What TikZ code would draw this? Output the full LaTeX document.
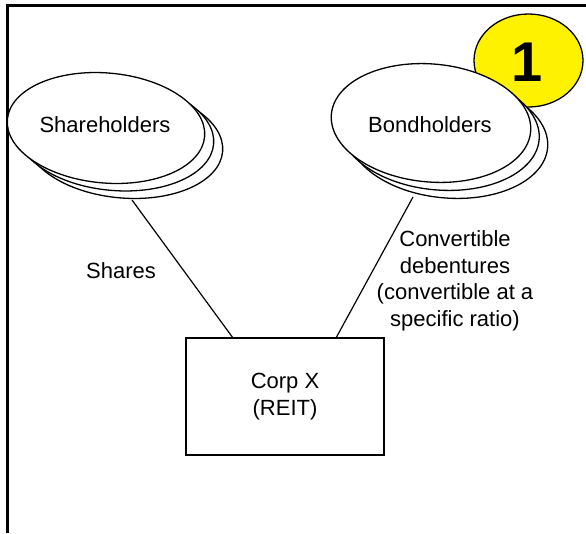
\documentclass[tikz,border=0pt]{standalone}
\usepackage{fontspec}
\setmainfont{Liberation Sans}
\usetikzlibrary{shapes.geometric}
\begin{document}
\begin{tikzpicture}[x=1pt,y=-1pt,
  lbl/.style={font=\fontsize{22}{26.5}\selectfont, align=center, inner sep=0pt},
  stackell/.style={draw=black, fill=white, line width=1.3pt},
  conn/.style={draw=black, line width=1.2pt},
  border/.style={draw=black, line width=3pt}]
\useasboundingbox (0,0) rectangle (586,533);
% frame
\draw[border] (586,5.5) -- (7.5,5.5) -- (7.5,533);
% badge
\node[draw=black, fill=yellow, line width=1.3pt, ellipse, minimum width=109, minimum height=93, inner sep=0pt] (badge) at (528.5,60.5) {};
\node[font=\bfseries\fontsize{56}{56}\selectfont, inner sep=0pt] (one) at (527,62) {1};
% shareholders stack
\draw[stackell, rotate around={-5:(124,143)}] (124,143) ellipse [x radius=99, y radius=55];
\draw[stackell, rotate around={-5:(115,135.5)}] (115,135.5) ellipse [x radius=99, y radius=55];
\draw[stackell, rotate around={-5:(106,128)}] (106,128) ellipse [x radius=99, y radius=55];
\node[lbl] (shl) at (105,125) {Shareholders};
% bondholders stack
\draw[stackell, rotate around={-5:(448,139)}] (448,139) ellipse [x radius=100, y radius=59];
\draw[stackell, rotate around={-5:(439.5,131)}] (439.5,131) ellipse [x radius=100, y radius=59];
\draw[stackell, rotate around={-5:(431,123)}] (431,123) ellipse [x radius=100, y radius=59];
\node[lbl] (bhl) at (430,125) {Bondholders};
% box
\node[draw=black, line width=1.4pt, minimum width=198, minimum height=117, inner sep=0pt, lbl] (box) at (285,396.5) {Corp X\\(REIT)};
% connectors
\coordinate (shb) at (132,200);
\coordinate (bhb) at (413,197);
\coordinate (boxl) at (233,338);
\coordinate (boxr) at (336,338);
\draw[conn] (shb) -- (boxl);
\draw[conn] (bhb) -- (boxr);
% labels
\node[lbl] (shares) at (121,271) {Shares};
\node[lbl] (conv) at (455,281) {Convertible\\debentures\\(convertible at a\\specific ratio)};
\end{tikzpicture}
\end{document}
